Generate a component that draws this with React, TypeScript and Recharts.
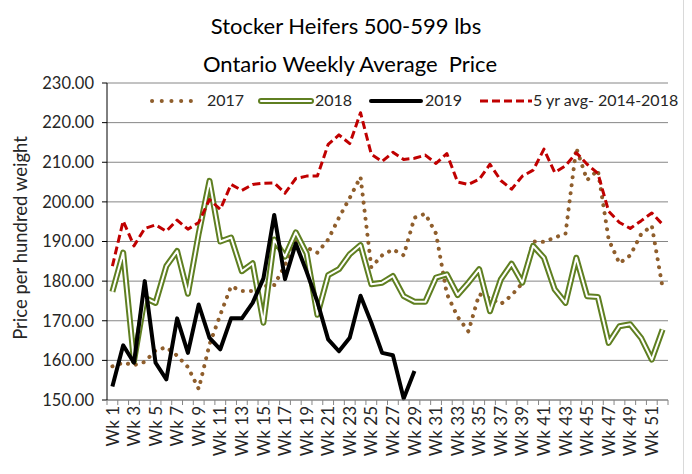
import { LineChart, Line, XAxis, YAxis, CartesianGrid } from "recharts"

// categories
const weeks = [
  "Wk 1", "Wk 2", "Wk 3", "Wk 4", "Wk 5", "Wk 6", "Wk 7", "Wk 8", "Wk 9", "Wk 10",
  "Wk 11", "Wk 12", "Wk 13", "Wk 14", "Wk 15", "Wk 16", "Wk 17", "Wk 18", "Wk 19", "Wk 20",
  "Wk 21", "Wk 22", "Wk 23", "Wk 24", "Wk 25", "Wk 26", "Wk 27", "Wk 28", "Wk 29", "Wk 30",
  "Wk 31", "Wk 32", "Wk 33", "Wk 34", "Wk 35", "Wk 36", "Wk 37", "Wk 38", "Wk 39", "Wk 40",
  "Wk 41", "Wk 42", "Wk 43", "Wk 44", "Wk 45", "Wk 46", "Wk 47", "Wk 48", "Wk 49", "Wk 50",
  "Wk 51", "Wk 52",
]

// weekly prices, $/cwt
const price2017 = [
  158.5, 159.4, 158.8, 159.6, 162.5, 163.3, 161.2, 158.3, 152.8, 164.0,
  171.5, 178.7, 177.5, 177.5, 178.7, 179.0, 184.0, 190.0, 188.5, 187.2,
  190.5, 196.0, 201.0, 206.3, 183.5, 186.5, 188.0, 186.5, 196.0, 197.0,
  192.0, 176.8, 171.0, 167.3, 176.7, 175.7, 174.2, 176.4, 179.5, 190.0,
  189.9, 191.0, 192.0, 213.6, 205.5, 208.0, 190.5, 184.5, 186.5, 191.8,
  194.0, 178.3,
]

const price2018 = [
  177.3, 187.2, 159.8, 175.8, 174.5, 183.8, 187.6, 176.8, 192.0, 205.3,
  190.0, 191.0, 182.5, 184.5, 169.5, 190.5, 186.2, 192.3, 187.0, 171.5,
  181.5, 183.0, 186.8, 189.1, 179.2, 179.6, 181.3, 176.2, 174.8, 174.8,
  180.9, 181.7, 176.5, 179.6, 183.0, 172.4, 180.4, 184.4, 179.6, 188.9,
  185.9, 177.9, 174.5, 185.9, 176.2, 176.0, 164.4, 168.6, 169.1, 165.7,
  160.2, 167.8,
]

const price2019 = [
  153.4, 163.8, 159.4, 180.0, 159.4, 155.2, 170.6, 161.9, 174.1, 165.7,
  162.8, 170.6, 170.6, 174.5, 180.7, 196.7, 180.5, 189.5, 182.4, 174.8,
  165.3, 162.3, 165.7, 176.3, 169.5, 161.9, 161.3, 150.4, 157.3,
]

const avg5yr = [
  183.8, 195.2, 188.9, 193.3, 194.2, 192.6, 195.4, 193.1, 194.8, 200.6,
  198.1, 204.4, 202.9, 204.4, 204.7, 204.8, 202.2, 205.9, 206.5, 206.5,
  214.5, 216.9, 214.7, 222.5, 212.0, 210.2, 212.5, 210.7, 211.0, 211.8,
  209.7, 212.2, 205.0, 204.4, 205.7, 209.5, 205.4, 203.2, 206.5, 208.0,
  213.3, 207.4, 209.1, 212.4, 209.5, 207.2, 197.6, 194.8, 193.3, 195.2,
  197.2, 194.3,
]

const yTicks = [150, 160, 170, 180, 190, 200, 210, 220, 230]

const data = weeks.map((wk, i) => ({
  wk,
  y2017: price2017[i],
  y2018: price2018[i],
  y2019: i < price2019.length ? price2019[i] : null,
  avg: avg5yr[i],
}))

const W = 692
const H = 474
const PLOT_LEFT = 107
const PLOT_RIGHT = 668
const PLOT_TOP = 83
const PLOT_BOTTOM = 400
const BAND = (PLOT_RIGHT - PLOT_LEFT) / weeks.length

const FONT = "Lato, 'Open Sans', sans-serif"
const TEXT = "#262626"
const AXIS_GREY = "#868686"
const BROWN = "#8f5e2c"
const GREEN = "#5f7f21"
const RED = "#c00000"

function WeekTick(props: any) {
  const { x, payload, index } = props
  const half = BAND / 2
  return (
    <g>
      <line x1={x - half} x2={x - half} y1={PLOT_BOTTOM} y2={PLOT_BOTTOM + 5} stroke={AXIS_GREY} />
      {index === weeks.length - 1 && (
        <line x1={x + half} x2={x + half} y1={PLOT_BOTTOM} y2={PLOT_BOTTOM + 5} stroke={AXIS_GREY} />
      )}
      {index % 2 === 0 && (
        <g transform={`translate(${x},${PLOT_BOTTOM + 6})`}>
          <text
            transform="rotate(-90)"
            textAnchor="end"
            dy="0.36em"
            fontSize={17}
            fontFamily={FONT}
            fill={TEXT}
          >
            {payload.value}
          </text>
        </g>
      )}
    </g>
  )
}

function LegendRow() {
  const item: React.CSSProperties = { position: "absolute", top: 90, fontSize: 16, fontFamily: FONT, color: TEXT }
  return (
    <>
      <svg style={{ position: "absolute", left: 148, top: 93 }} width={56} height={16}>
        <line x1={4} x2={52} y1={8} y2={8} stroke={BROWN} strokeWidth={4} strokeLinecap="round" strokeDasharray="0.1 9.6" />
      </svg>
      <div style={{ ...item, left: 207 }}>2017</div>
      <svg style={{ position: "absolute", left: 256, top: 93 }} width={60} height={16}>
        <line x1={5} x2={55} y1={8} y2={8} stroke={GREEN} strokeWidth={6} strokeLinecap="round" />
        <line x1={5} x2={55} y1={8} y2={8} stroke="#fff" strokeWidth={2} strokeLinecap="round" />
      </svg>
      <div style={{ ...item, left: 315 }}>2018</div>
      <svg style={{ position: "absolute", left: 366, top: 93 }} width={60} height={16}>
        <line x1={5} x2={55} y1={8} y2={8} stroke="#000" strokeWidth={4} strokeLinecap="round" />
      </svg>
      <div style={{ ...item, left: 425 }}>2019</div>
      <svg style={{ position: "absolute", left: 478, top: 93 }} width={56} height={16}>
        <line x1={2} x2={54} y1={8} y2={8} stroke={RED} strokeWidth={3} strokeDasharray="8 4" />
      </svg>
      <div style={{ ...item, left: 533 }}>5 yr avg- 2014-2018</div>
    </>
  )
}

export default function App() {
  return (
    <div style={{ position: "absolute", left: 0, top: 0, width: W, height: H, background: "#fff", overflow: "hidden" }}>
      <div
        style={{
          position: "absolute",
          left: 0,
          width: 692,
          top: 7,
          textAlign: "center",
          fontFamily: FONT,
          fontSize: 22,
          lineHeight: "38px",
          color: "#000",
        }}
      >
        <div>Stocker Heifers 500-599 lbs</div>
        <div style={{ width: 700 }}>Ontario Weekly Average&nbsp; Price</div>
      </div>
      <div style={{ position: "absolute", left: 20, top: 238, width: 0, height: 0 }}>
        <div
          style={{
            position: "absolute",
            transform: "translate(-50%, -50%) rotate(-90deg)",
            whiteSpace: "nowrap",
            fontFamily: FONT,
            fontSize: 18.5,
            color: TEXT,
          }}
        >
          Price per hundred weight
        </div>
      </div>
      <div style={{ position: "absolute", left: 0, top: 0 }}>
        <LineChart
          width={W}
          height={H}
          data={data}
          margin={{ top: PLOT_TOP, right: W - PLOT_RIGHT, left: 0, bottom: 0 }}
        >
          <CartesianGrid vertical={false} stroke={AXIS_GREY} strokeWidth={1} />
          <XAxis
            dataKey="wk"
            interval={0}
            height={H - PLOT_BOTTOM}
            padding={{ left: BAND / 2, right: BAND / 2 }}
            axisLine={{ stroke: AXIS_GREY }}
            tickLine={false}
            tick={<WeekTick />}
          />
          <YAxis
            width={PLOT_LEFT}
            domain={[150, 230]}
            ticks={yTicks}
            interval={0}
            tickFormatter={(v: number) => v.toFixed(2)}
            axisLine={{ stroke: "#000" }}
            tickLine={{ stroke: "#000" }}
            tickSize={5}
            tickMargin={8}
            tick={{ fontSize: 16.5, fontFamily: FONT, fill: TEXT }}
          />
          <Line
            dataKey="y2017"
            stroke={BROWN}
            strokeWidth={4}
            strokeLinecap="round"
            strokeDasharray="0.1 8"
            dot={false}
            activeDot={false}
            isAnimationActive={false}
          />
          <Line
            dataKey="y2018"
            stroke={GREEN}
            strokeWidth={6}
            strokeLinejoin="round"
            dot={false}
            activeDot={false}
            isAnimationActive={false}
          />
          <Line
            dataKey="y2018"
            stroke="#fff"
            strokeWidth={2}
            strokeLinejoin="round"
            dot={false}
            activeDot={false}
            isAnimationActive={false}
          />
          <Line
            dataKey="y2019"
            stroke="#000"
            strokeWidth={4}
            strokeLinejoin="round"
            dot={false}
            activeDot={false}
            isAnimationActive={false}
          />
          <Line
            dataKey="avg"
            stroke={RED}
            strokeWidth={3}
            strokeDasharray="8 4"
            strokeLinejoin="round"
            dot={false}
            activeDot={false}
            isAnimationActive={false}
          />
        </LineChart>
      </div>
      <LegendRow />
      <div style={{ position: "absolute", left: 683, top: 0, width: 1, height: H, background: "#d9d9d9" }} />
    </div>
  )
}
